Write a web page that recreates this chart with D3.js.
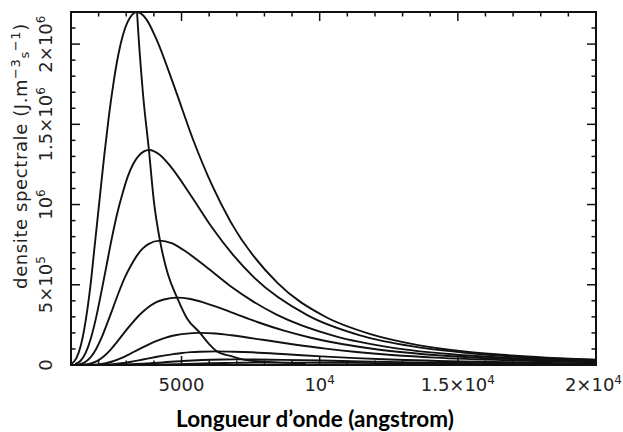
<!DOCTYPE html>
<html>
<head>
<meta charset="utf-8">
<script src="https://cdn.jsdelivr.net/npm/d3@7"></script>
<style>
  body { margin: 0; background: #fff; }
  svg { display: block; }
  .curve { fill: none; stroke: #111; stroke-width: 1.9; }
  .tick-label { font-family: "DejaVu Sans", sans-serif; font-size: 18px; fill: #222; }
</style>
</head>
<body>
<svg id="chart" width="623" height="432"></svg>
<script>
// wavelength in angstrom, density in units of 10^6
var curve1 = [[1020, 0.008], [1190, 0.041], [1360, 0.125], [1530, 0.275], [1700, 0.488], [1860, 0.748], [2030, 1.025], [2200, 1.30], [2370, 1.549], [2540, 1.76], [2710, 1.932], [2880, 2.057], [3050, 2.138], [3390, 2.2], [3730, 2.154], [4070, 2.039], [4750, 1.729], [5420, 1.404], [6100, 1.122], [6780, 0.891], [8480, 0.51], [10170, 0.304], [11870, 0.191], [13560, 0.124], [16950, 0.059], [20000, 0.033]];
var curve2 = [[1150, 0.005], [1340, 0.025], [1530, 0.076], [1720, 0.167], [1910, 0.297], [2100, 0.456], [2290, 0.624], [2480, 0.792], [2670, 0.943], [2870, 1.072], [3060, 1.177], [3250, 1.253], [3440, 1.302], [3820, 1.34], [4200, 1.312], [4580, 1.242], [5350, 1.053], [6110, 0.855], [6880, 0.683], [7640, 0.543], [9550, 0.311], [11460, 0.185], [13370, 0.116], [15280, 0.076], [19100, 0.036], [20000, 0.032]];
var curve3 = [[1270, 0.003], [1480, 0.015], [1690, 0.044], [1900, 0.097], [2110, 0.172], [2320, 0.264], [2530, 0.361], [2740, 0.458], [2950, 0.546], [3170, 0.62], [3380, 0.68], [3590, 0.725], [3800, 0.753], [4220, 0.775], [4640, 0.759], [5060, 0.718], [5910, 0.609], [6750, 0.494], [7600, 0.395], [8440, 0.314], [10550, 0.18], [12660, 0.107], [14770, 0.067], [16880, 0.044], [20000, 0.027]];
var curve4 = [[1450, 0.002], [1690, 0.008], [1940, 0.024], [2180, 0.053], [2420, 0.093], [2660, 0.143], [2900, 0.196], [3150, 0.248], [3390, 0.296], [3630, 0.336], [3870, 0.369], [4110, 0.393], [4360, 0.408], [4840, 0.42], [5320, 0.411], [5810, 0.389], [6780, 0.33], [7740, 0.268], [8710, 0.214], [9680, 0.17], [12100, 0.097], [14520, 0.058], [16940, 0.036], [20000, 0.022]];
var curve5 = [[1700, 0.001], [1980, 0.004], [2270, 0.011], [2550, 0.025], [2840, 0.044], [3120, 0.068], [3400, 0.093], [3690, 0.118], [3970, 0.141], [4250, 0.16], [4540, 0.176], [4820, 0.187], [5100, 0.194], [5670, 0.2], [6240, 0.196], [6800, 0.185], [7940, 0.157], [9070, 0.128], [10210, 0.102], [11340, 0.081], [14180, 0.046], [17010, 0.028], [20000, 0.017]];
var curve6 = [[1880, 0.0003], [2200, 0.0016], [2510, 0.005], [2830, 0.011], [3140, 0.019], [3450, 0.029], [3770, 0.04], [4080, 0.05], [4400, 0.06], [4710, 0.068], [5020, 0.075], [5340, 0.08], [5650, 0.083], [6280, 0.085], [6910, 0.083], [7540, 0.079], [8790, 0.067], [10050, 0.054], [11300, 0.043], [12560, 0.034], [15700, 0.02], [18840, 0.012], [20000, 0.01]];
var curve7 = [[2160, 0.0001], [2880, 0.002], [3600, 0.008], [4320, 0.016], [5040, 0.025], [5760, 0.031], [6480, 0.034], [7200, 0.035], [8640, 0.032], [10080, 0.028], [11520, 0.022], [12960, 0.018], [14400, 0.014], [18000, 0.008], [20000, 0.006]];
var curve8 = [[2580, 0.0001], [3440, 0.001], [4300, 0.003], [5160, 0.007], [6020, 0.011], [6880, 0.013], [7740, 0.015], [8600, 0.015], [10320, 0.014], [12040, 0.012], [13760, 0.01], [15480, 0.008], [17200, 0.006], [20000, 0.004]];
// line through the maxima (Wien)
var wienLocus = [[3300, 2.5], [3390, 2.2], [3600, 1.7], [3820, 1.34], [4000, 1.02], [4220, 0.775], [4500, 0.57], [4840, 0.42], [5200, 0.29], [5670, 0.2], [6000, 0.13], [6280, 0.085], [6800, 0.055], [7200, 0.035], [8000, 0.02], [8600, 0.015], [9500, 0.009]];

var xTickValues = [5000, 10000, 15000, 20000];
var xTickLabels = [["5000", ""], ["10", "4"], ["1.5\u00d710", "4"], ["2\u00d710", "4"]];
var yTickValues = [0, 0.5, 1, 1.5, 2];
var yTickLabels = [["0", ""], ["5\u00d710", "5"], ["10", "6"], ["1.5\u00d710", "6"], ["2\u00d710", "6"]];

var curves = [curve1, curve2, curve3, curve4, curve5, curve6, curve7, curve8, wienLocus];

var plot = { left: 71, top: 12, right: 596, bottom: 365 };

var x = d3.scaleLinear().domain([1000, 20000]).range([plot.left, plot.right]);
var y = d3.scaleLinear().domain([0, 2.2]).range([plot.bottom, plot.top]);

var svg = d3.select("svg#chart");

svg.append("clipPath")
  .attr("id", "plot-clip")
  .append("rect")
  .attr("x", plot.left)
  .attr("y", plot.top)
  .attr("width", plot.right - plot.left)
  .attr("height", plot.bottom - plot.top);

var line = d3.line()
  .x(function (d) { return x(d[0]); })
  .y(function (d) { return y(d[1]); })
  .curve(d3.curveMonotoneX);

svg.append("g")
  .attr("clip-path", "url(#plot-clip)")
  .selectAll("path")
  .data(curves)
  .enter()
  .append("path")
  .attr("class", "curve")
  .attr("d", line);

// inward ticks on all four sides
var tickG = svg.append("g").attr("stroke", "#111").attr("stroke-width", 1.5);
d3.range(2000, 20000, 1000).forEach(function (v) {
  var len = v % 5000 === 0 ? 9 : 4.5;
  tickG.append("line").attr("x1", x(v)).attr("x2", x(v)).attr("y1", plot.bottom).attr("y2", plot.bottom - len);
  tickG.append("line").attr("x1", x(v)).attr("x2", x(v)).attr("y1", plot.top).attr("y2", plot.top + len);
});
d3.range(1, 22).forEach(function (i) {
  var v = i / 10;
  var len = i % 5 === 0 ? 9 : 4.5;
  tickG.append("line").attr("x1", plot.left).attr("x2", plot.left + len).attr("y1", y(v)).attr("y2", y(v));
  tickG.append("line").attr("x1", plot.right).attr("x2", plot.right - len).attr("y1", y(v)).attr("y2", y(v));
});

svg.append("rect")
  .attr("x", plot.left)
  .attr("y", plot.top)
  .attr("width", plot.right - plot.left)
  .attr("height", plot.bottom - plot.top)
  .attr("fill", "none")
  .attr("stroke", "#111")
  .attr("stroke-width", 2);

function addLabel(g, parts) {
  g.append("tspan").text(parts[0]);
  if (parts[1]) {
    g.append("tspan").attr("font-size", "12px").attr("dy", "-7").text(parts[1]);
  }
}

// x tick labels (last one pinned to the right edge so it stays visible)
xTickValues.forEach(function (v, i) {
  var last = i === xTickValues.length - 1;
  var t = svg.append("text")
    .attr("class", "tick-label")
    .attr("x", last ? 622 : x(v))
    .attr("y", 391)
    .attr("text-anchor", last ? "end" : "middle");
  addLabel(t, xTickLabels[i]);
});

// y tick labels, rotated
yTickValues.forEach(function (v, i) {
  var t = svg.append("text")
    .attr("class", "tick-label")
    .attr("transform", "translate(52," + y(v) + ") rotate(-90)")
    .attr("text-anchor", "middle");
  addLabel(t, yTickLabels[i]);
});

// y axis title
var yTitle = svg.append("text")
  .attr("class", "tick-label")
  .attr("font-size", "19px")
  .attr("letter-spacing", "0.6")
  .attr("transform", "translate(27,156) rotate(-90)")
  .attr("text-anchor", "middle");
yTitle.append("tspan").text("densite spectrale (J.m");
yTitle.append("tspan").attr("font-size", "13px").attr("dy", "-7").text("\u22123");
yTitle.append("tspan").attr("font-size", "13px").attr("dy", "9").text("s");
yTitle.append("tspan").attr("font-size", "13px").attr("dy", "-9").text("\u22121");
yTitle.append("tspan").attr("dy", "7").text(")");

// x axis title
svg.append("text")
  .attr("x", 315)
  .attr("y", 427)
  .attr("text-anchor", "middle")
  .attr("font-family", "Lato, 'Open Sans', sans-serif")
  .attr("font-weight", "bold")
  .attr("font-size", "22.5px")
  .attr("fill", "#000")
  .text("Longueur d\u2019onde (angstrom)");
</script>
</body>
</html>
